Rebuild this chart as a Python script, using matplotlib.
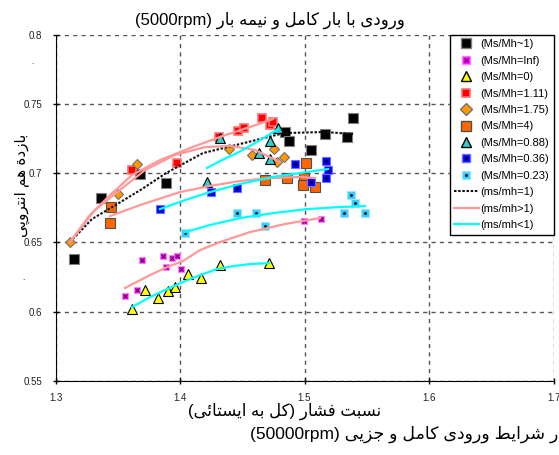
import matplotlib
matplotlib.use('Agg')
import matplotlib.pyplot as plt
from matplotlib.lines import Line2D

# --- data ---
blk_x = [1.3149, 1.3365, 1.3679, 1.3888, 1.4843, 1.4876, 1.5052, 1.5165, 1.5341, 1.5390]
blk_y = [0.6380, 0.6821, 0.6994, 0.6929, 0.7298, 0.7233, 0.7168, 0.7283, 0.7262, 0.7399]

inf_x = [1.3558, 1.3655, 1.3695, 1.3863, 1.3888, 1.3936, 1.3976, 1.4008, 1.4996, 1.5133]
inf_y = [0.6113, 0.6156, 0.6373, 0.6402, 0.6322, 0.6387, 0.6402, 0.6308, 0.6655, 0.6669]

zero_x = [1.3614, 1.3719, 1.3823, 1.3904, 1.3960, 1.4064, 1.4169, 1.4321, 1.4715]
zero_y = [0.6019, 0.6156, 0.6098, 0.6149, 0.6178, 0.6272, 0.6243, 0.6337, 0.6351]

r111_x = [1.3614, 1.3976, 1.4313, 1.4466, 1.4514, 1.4659, 1.4723, 1.4747]
r111_y = [0.7023, 0.7074, 0.7262, 0.7305, 0.7327, 0.7399, 0.7348, 0.7370]

r175_x = [1.3116, 1.3502, 1.3655, 1.4394, 1.4578, 1.4755, 1.4779, 1.4835]
r175_y = [0.6503, 0.6850, 0.7066, 0.7175, 0.7132, 0.7175, 0.7081, 0.7117]

r4_x = [1.3446, 1.3438, 1.4683, 1.4859, 1.5012, 1.4996, 1.4988, 1.5084]
r4_y = [0.6756, 0.6640, 0.6951, 0.6965, 0.7074, 0.6965, 0.6915, 0.6900]

r088_x = [1.4217, 1.4321, 1.4635, 1.4723, 1.4723, 1.4787]
r088_y = [0.6936, 0.7254, 0.7146, 0.7233, 0.7103, 0.7327]

r036_x = [1.3839, 1.4249, 1.4458, 1.4924, 1.5052, 1.5173, 1.5189, 1.5173]
r036_y = [0.6741, 0.6864, 0.6893, 0.7066, 0.6936, 0.7088, 0.7023, 0.6965]

r023_x = [1.4040, 1.4458, 1.4610, 1.4683, 1.5317, 1.5373, 1.5406, 1.5486]
r023_y = [0.6568, 0.6712, 0.6712, 0.6618, 0.6712, 0.6842, 0.6785, 0.6712]

# trend lines (ms/mh=1, >1, <1)
eq_x = [1.3116, 1.3293, 1.3510, 1.3695, 1.3888, 1.4185, 1.4482, 1.4835, 1.5165, 1.5390]
eq_y = [0.6503, 0.6669, 0.6785, 0.6886, 0.7001, 0.7146, 0.7211, 0.7290, 0.7298, 0.7283]

gt_lines = [
    ([1.3116, 1.3277, 1.3438, 1.3614, 1.3839, 1.4080, 1.4321, 1.4562, 1.4747],
     [0.6503, 0.6698, 0.6842, 0.6987, 0.7095, 0.7182, 0.7262, 0.7334, 0.7392]),
    ([1.3116, 1.3317, 1.3518, 1.3719, 1.3960, 1.4201, 1.4402, 1.4602, 1.4803],
     [0.6503, 0.6734, 0.6879, 0.7023, 0.7132, 0.7189, 0.7197, 0.7168, 0.7081]),
    ([1.3438, 1.3679, 1.4000, 1.4241, 1.4482, 1.4723, 1.4964, 1.5084],
     [0.6691, 0.6770, 0.6864, 0.6908, 0.6944, 0.6965, 0.6973, 0.6965]),
    ([1.3558, 1.3759, 1.3896, 1.4024, 1.4161, 1.4321, 1.4562, 1.4843, 1.5124],
     [0.6171, 0.6264, 0.6322, 0.6366, 0.6445, 0.6503, 0.6575, 0.6633, 0.6676]),
]

lt_lines = [
    ([1.3614, 1.3759, 1.3896, 1.4024, 1.4161, 1.4297, 1.4426, 1.4562, 1.4715],
     [0.6033, 0.6105, 0.6163, 0.6214, 0.6264, 0.6308, 0.6329, 0.6344, 0.6351]),
    ([1.4040, 1.4241, 1.4482, 1.4747, 1.5020, 1.5285, 1.5486],
     [0.6575, 0.6626, 0.6676, 0.6712, 0.6741, 0.6756, 0.6763]),
    ([1.3839, 1.4040, 1.4241, 1.4482, 1.4747, 1.5020, 1.5189],
     [0.6741, 0.6806, 0.6864, 0.6922, 0.6973, 0.7009, 0.7030]),
    ([1.4217, 1.4337, 1.4458, 1.4562, 1.4659, 1.4787],
     [0.7038, 0.7095, 0.7146, 0.7197, 0.7247, 0.7319]),
]

x_ticks = [1.3, 1.4, 1.5, 1.6, 1.7]
x_labels = ['1.3', '1.4', '1.5', '1.6', '1.7']
y_ticks = [0.55, 0.6, 0.65, 0.7, 0.75, 0.8]
y_labels = ['0.55', '0.6', '0.65', '0.7', '0.75', '0.8']

title_txt = 'ورودی با بار کامل و نیمه بار (5000rpm)'
xlabel_txt = 'نسبت فشار (کل به ایستائی)'
caption_txt = 'ر شرایط ورودی کامل و جزیی (50000rpm)'  # cut at the right edge in the original
ylabel_txt = 'بازدة هم انتروپی'


# --- tiny persian shaper (matplotlib has no text shaping) ---
FORMS = {
    '\u0627': ('\uFE8D', '\uFE8E', None, None),      # alef
    '\u0628': ('\uFE8F', '\uFE90', '\uFE91', '\uFE92'),  # beh
    '\u067E': ('\uFB56', '\uFB57', '\uFB58', '\uFB59'),  # peh
    '\u062A': ('\uFE95', '\uFE96', '\uFE97', '\uFE98'),  # teh
    '\u0629': ('\uFE93', '\uFE94', None, None),      # teh marbuta
    '\u062C': ('\uFE9D', '\uFE9E', '\uFE9F', '\uFEA0'),  # jeem
    '\u062F': ('\uFEA9', '\uFEAA', None, None),      # dal
    '\u0631': ('\uFEAD', '\uFEAE', None, None),      # reh
    '\u0632': ('\uFEAF', '\uFEB0', None, None),      # zain
    '\u0633': ('\uFEB1', '\uFEB2', '\uFEB3', '\uFEB4'),  # seen
    '\u0634': ('\uFEB5', '\uFEB6', '\uFEB7', '\uFEB8'),  # sheen
    '\u0637': ('\uFEC1', '\uFEC2', '\uFEC3', '\uFEC4'),  # tah
    '\u0641': ('\uFED1', '\uFED2', '\uFED3', '\uFED4'),  # feh
    '\u06A9': ('\uFB8E', '\uFB8F', '\uFB90', '\uFB91'),  # keheh
    '\u0643': ('\uFB8E', '\uFB8F', '\uFB90', '\uFB91'),
    '\u0644': ('\uFEDD', '\uFEDE', '\uFEDF', '\uFEE0'),  # lam
    '\u0645': ('\uFEE1', '\uFEE2', '\uFEE3', '\uFEE4'),  # meem
    '\u0646': ('\uFEE5', '\uFEE6', '\uFEE7', '\uFEE8'),  # noon
    '\u0647': ('\uFEE9', '\uFEEA', '\uFEEB', '\uFEEC'),  # heh
    '\u0648': ('\uFEED', '\uFEEE', None, None),      # waw
    '\u06CC': ('\uFBFC', '\uFBFD', '\uFBFE', '\uFBFF'),  # farsi yeh
    '\u064A': ('\uFBFC', '\uFBFD', '\uFBFE', '\uFBFF'),
    '\u0626': ('\uFE89', '\uFE8A', '\uFE8B', '\uFE8C'),  # yeh hamza
}


def rtl(s):
    shaped = []
    for i, ch in enumerate(s):
        f = FORMS.get(ch)
        if f is None:
            shaped.append(ch)
            continue
        prev = s[i - 1] if i > 0 else ''
        nxt = s[i + 1] if i + 1 < len(s) else ''
        jp = prev in FORMS and FORMS[prev][2] is not None
        jn = f[2] is not None and nxt in FORMS
        if jp and jn:
            shaped.append(f[3])
        elif jp:
            shaped.append(f[1])
        elif jn:
            shaped.append(f[2])
        else:
            shaped.append(f[0])
    rev = shaped[::-1]
    # put latin / digit runs back in reading order, mirror brackets
    out, run = [], []
    for ch in rev:
        if ch.isascii() and ch.isalnum():
            run.append(ch)
        else:
            out.extend(run[::-1])
            run = []
            out.append({'(': ')', ')': '('}.get(ch, ch))
    out.extend(run[::-1])
    return ''.join(out)


plt.rcParams['font.family'] = ['Liberation Sans', 'DejaVu Sans']

W, H = 559, 455
fig = plt.figure(figsize=(W / 100, H / 100), dpi=100)
ax = fig.add_axes([55.5 / W, 1 - 380.9 / H, 498 / W, 346.1 / H])

# markers
ax.plot(blk_x, blk_y, 's', ms=6.5, mfc='black', mec='#808080', mew=0.8, zorder=3)
ax.plot(inf_x, inf_y, 's', ms=5, mfc='#ff00ff', mec='#ff80ff', mew=0.8, zorder=3)
ax.plot(inf_x, inf_y, 'x', ms=2.2, color='#222222', mew=0.6, zorder=3)
ax.plot(zero_x, zero_y, '^', ms=7, mfc='#ffff00', mec='black', mew=0.8, zorder=3)
ax.plot(r111_x, r111_y, 's', ms=5.5, mfc='#ff0000', mec='#ff7070', mew=1.2, zorder=3)
ax.plot(r175_x, r175_y, 'D', ms=5.5, mfc='#ff9900', mec='#707070', mew=0.8, zorder=3)
ax.plot(r4_x, r4_y, 's', ms=6.5, mfc='#ff6600', mec='#505050', mew=0.8, zorder=3)
ax.plot(r088_x, r088_y, '^', ms=7, mfc='#33cccc', mec='black', mew=0.8, zorder=3)
ax.plot(r036_x, r036_y, 's', ms=5.5, mfc='#0000ff', mec='#7070ff', mew=0.8, zorder=3)
ax.plot(r036_x, r036_y, '.', ms=2, color='black', zorder=3)
ax.plot(r023_x, r023_y, 's', ms=5.5, mfc='#33ccff', mec='#a0e8ff', mew=0.8, zorder=3)
ax.plot(r023_x, r023_y, '.', ms=2, color='black', zorder=3)

# trend lines
ax.plot(eq_x, eq_y, color='#111111', lw=1.5, ls=(0, (1.2, 0.8)), zorder=4)
for xs, ys in gt_lines:
    ax.plot(xs, ys, color='#ff9999', lw=1.6, zorder=4)
for xs, ys in lt_lines:
    ax.plot(xs, ys, color='#00ffff', lw=1.6, zorder=4)

ax.set_xlim(1.3, 1.7)
ax.set_ylim(0.55, 0.8)
ax.set_xticks(x_ticks)
ax.set_xticklabels(x_labels)
ax.set_yticks(y_ticks)
ax.set_yticklabels(y_labels)
ax.tick_params(direction='inout', length=5, width=1, labelsize=7,
               labelcolor='#222222')
ax.tick_params(axis='x', pad=6)
ax.tick_params(axis='y', pad=7)
ax.grid(True, color='#555555', ls=(0, (3, 3)), lw=1)
ax.set_axisbelow(True)
for side in ('top', 'right'):
    ax.spines[side].set_visible(False)

# legend
handles = [
    Line2D([], [], ls='', marker='s', ms=7, mfc='black', mec='#808080'),
    (Line2D([], [], ls='', marker='s', ms=5.5, mfc='#ff00ff', mec='#ff80ff'),
     Line2D([], [], ls='', marker='x', ms=2.2, color='#222222', mew=0.6)),
    Line2D([], [], ls='', marker='^', ms=7.5, mfc='#ffff00', mec='black'),
    Line2D([], [], ls='', marker='s', ms=6, mfc='#ff0000', mec='#ff7070', mew=1.2),
    Line2D([], [], ls='', marker='D', ms=6, mfc='#ff9900', mec='#707070'),
    Line2D([], [], ls='', marker='s', ms=7, mfc='#ff6600', mec='#505050'),
    Line2D([], [], ls='', marker='^', ms=7.5, mfc='#33cccc', mec='black'),
    (Line2D([], [], ls='', marker='s', ms=6, mfc='#0000ff', mec='#7070ff'),
     Line2D([], [], ls='', marker='.', ms=2, color='black')),
    (Line2D([], [], ls='', marker='s', ms=6, mfc='#33ccff', mec='#a0e8ff'),
     Line2D([], [], ls='', marker='.', ms=2, color='black')),
    Line2D([], [], color='#111111', lw=1.5, ls=(0, (1.2, 0.8))),
    Line2D([], [], color='#ff9999', lw=1.6),
    Line2D([], [], color='#00ffff', lw=1.6),
]
labels = ['(Ms/Mh~1)', '(Ms/Mh=Inf)', '(Ms/Mh=0)', '(Ms/Mh=1.11)', '(Ms/Mh=1.75)',
          '(Ms/Mh=4)', '(Ms/Mh=0.88)', '(Ms/Mh=0.36)', '(Ms/Mh=0.23)',
          '(ms/mh=1)', '(ms/mh>1)', '(ms/mh<1)']
leg = ax.legend(handles, labels, loc='upper right', bbox_to_anchor=(1.0, 1.0),
                borderaxespad=0, fontsize=8, labelspacing=0.58, handlelength=2.2,
                handletextpad=0.15, borderpad=0.4, fancybox=False, framealpha=1,
                edgecolor='black')
leg.get_frame().set_linewidth(1)
leg.set_zorder(5)

# texts
fig.text(270 / W, 1 - 20 / H, rtl(title_txt), ha='center', va='center', fontsize=12)
fig.text(285 / W, 1 - 411 / H, rtl(xlabel_txt), ha='center', va='center', fontsize=12)
fig.text(558 / W, 1 - 434 / H, rtl(caption_txt), ha='right', va='center', fontsize=12.5)
fig.text(22 / W, 1 - 185 / H, rtl(ylabel_txt), rotation=90, ha='center', va='center',
         fontsize=11)
fig.text(32 / W, 1 - 63 / H, '.', ha='center', va='center', fontsize=6)
fig.text(23 / W, 1 - 278 / H, '.', ha='center', va='center', fontsize=6)

fig.savefig('out.png', dpi=100)
